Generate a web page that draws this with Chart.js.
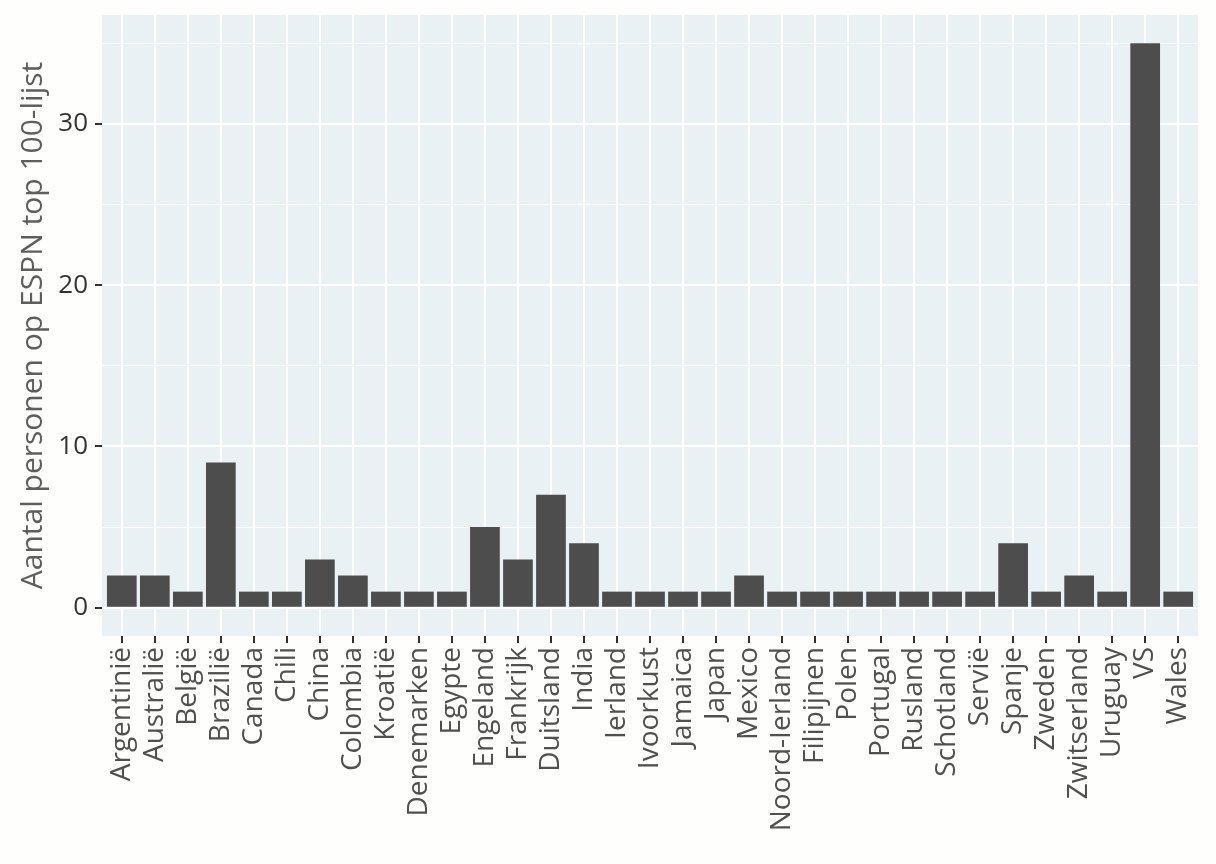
<!DOCTYPE html>
<html>
<head>
<meta charset="utf-8">
<script src="https://cdn.jsdelivr.net/npm/chart.js@4/dist/chart.umd.min.js"></script>
<style>
  html, body { margin: 0; padding: 0; background: #fefefc; }
  #wrap { width: 1216px; height: 864px; }
</style>
</head>
<body>
<div id="wrap"><canvas id="c" width="1216" height="864"></canvas></div>
<script>
const categories = ["Argentinië","Australië","België","Brazilië","Canada","Chili","China","Colombia","Kroatië","Denemarken","Egypte","Engeland","Frankrijk","Duitsland","India","Ierland","Ivoorkust","Jamaica","Japan","Mexico","Noord-Ierland","Filipijnen","Polen","Portugal","Rusland","Schotland","Servië","Spanje","Zweden","Zwitserland","Uruguay","VS","Wales"];
const counts = [2,2,1,9,1,1,3,2,1,1,1,5,3,7,4,1,1,1,1,2,1,1,1,1,1,1,1,4,1,2,1,35,1];
const yTickValues = [0,5,10,15,20,25,30,35];
const yTickLabels = ["0","","10","","20","","30",""];
const yTitle = "Aantal personen op ESPN top 100-lijst";

const panelBg = {
  id: 'panelBg',
  beforeDraw(chart) {
    const {ctx, chartArea: a} = chart;
    ctx.save();
    ctx.fillStyle = '#e9f1f5';
    ctx.fillRect(a.left, a.top, a.right - a.left, a.bottom - a.top);
    ctx.restore();
  }
};

new Chart(document.getElementById('c'), {
  type: 'bar',
  data: {
    datasets: [{
      data: counts.map((v, i) => ({x: i, y: v})),
      backgroundColor: '#4d4d4d',
      borderWidth: 0,
      barPercentage: 0.9,
      categoryPercentage: 1.0
    }]
  },
  options: {
    responsive: false,
    animation: false,
    devicePixelRatio: 1,
    layout: { padding: { left: 0, top: 15, right: 18, bottom: 0 } },
    plugins: { legend: { display: false }, tooltip: { enabled: false } },
    scales: {
      x: {
        type: 'linear',
        offset: false,
        min: -0.6,
        max: categories.length - 1 + 0.6,
        afterBuildTicks(s) { s.ticks = categories.map((_, i) => ({value: i})); },
        afterFit(s) { s.height = 864 - 636; s.paddingLeft = 0; s.paddingRight = 0; },
        border: { display: false },
        grid: {
          offset: false,
          color: '#ffffff',
          lineWidth: 2,
          drawTicks: true,
          tickLength: 7,
          tickColor: '#333333',
          tickWidth: 2
        },
        ticks: {
          autoSkip: false,
          maxRotation: 90,
          minRotation: 90,
          padding: 4,
          color: '#505050',
          font: { family: 'Open Sans', size: 28 },
          callback: (v) => categories[v] ?? ''
        }
      },
      y: {
        type: 'linear',
        min: -1.75,
        max: 36.75,
        afterBuildTicks(s) { s.ticks = yTickValues.map(v => ({value: v})); },
        afterFit(s) { s.width = 102; s.paddingTop = 0; s.paddingBottom = 0; },
        border: { display: false },
        grid: {
          color: '#ffffff',
          lineWidth: (c) => (c.tick && c.tick.value % 10 === 0) ? 2 : 1,
          drawTicks: true,
          tickLength: 7,
          tickColor: (c) => (c.tick && c.tick.value % 10 === 0) ? '#333333' : 'rgba(0,0,0,0)',
          tickWidth: 2
        },
        ticks: {
          padding: 7,
          color: '#333333',
          font: { family: 'Open Sans', size: 26 },
          callback: (v) => { const k = yTickValues.indexOf(v); return k >= 0 ? yTickLabels[k] : ''; }
        },
        title: {
          display: true,
          text: yTitle,
          color: '#5e5e5e',
          font: { family: 'Open Sans', size: 30 },
          padding: { top: 15, bottom: 0 }
        }
      }
    }
  },
  plugins: [panelBg]
});
</script>
</body>
</html>
